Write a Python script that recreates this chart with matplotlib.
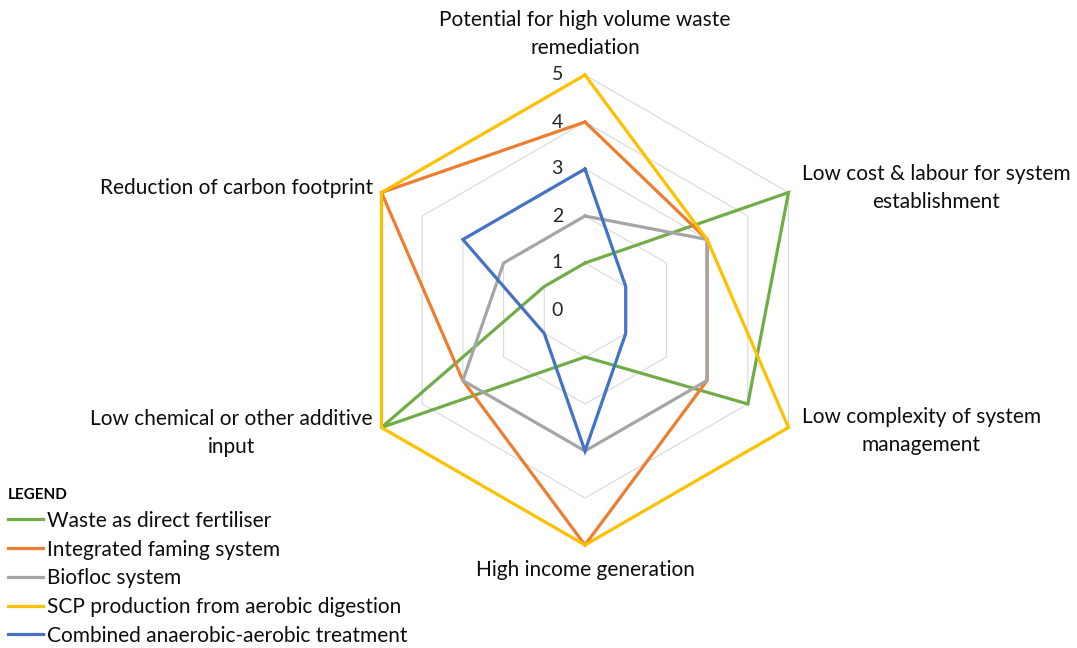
import numpy as np
import matplotlib.pyplot as plt
from matplotlib.lines import Line2D

plt.rcParams['font.family'] = ['Lato', 'DejaVu Sans']

criteria = [
    "Potential for high volume waste\nremediation",
    "Low cost & labour for system\nestablishment",
    "Low complexity of system\nmanagement",
    "High income generation",
    "Low chemical or other additive\ninput",
    "Reduction of carbon footprint",
]
series_names = [
    "Waste as direct fertiliser",
    "Integrated faming system",
    "Biofloc system",
    "SCP production from aerobic digestion",
    "Combined anaerobic-aerobic treatment",
]
waste_fertiliser = [1, 5, 4, 1, 5, 1]
integrated_farming = [4, 3, 3, 5, 3, 5]
biofloc = [2, 3, 3, 3, 3, 2]
scp_aerobic = [5, 3, 5, 5, 5, 5]
anaerobic_aerobic = [3, 1, 1, 3, 1, 3]
scale_ticks = [0, 1, 2, 3, 4, 5]

colors = ["#70AD47", "#ED7D31", "#A5A5A5", "#FFC000", "#4472C4"]
all_series = [waste_fertiliser, integrated_farming, biofloc, scp_aerobic, anaerobic_aerobic]

n = len(criteria)
angles = np.linspace(0, 2 * np.pi, n, endpoint=False)
closed = np.append(angles, angles[0])

fig = plt.figure(figsize=(10.77, 6.48), dpi=100)
ax = fig.add_axes([350 / 1077, 103 / 648, 470 / 1077, 470 / 648], projection='polar')
ax.set_theta_offset(np.pi / 2)
ax.set_theta_direction(-1)
ax.set_ylim(0, scale_ticks[-1])
ax.grid(False)
ax.spines['polar'].set_visible(False)
ax.set_xticks([])
ax.set_yticks([])
ax.patch.set_alpha(0)

# hexagonal gridlines
for k in scale_ticks[1:]:
    ax.plot(closed, [k] * (n + 1), color="#D9D9D9", lw=0.8, zorder=1, clip_on=False)

for vals, col, name in zip(all_series, colors, series_names):
    ax.plot(closed, vals + vals[:1], color=col, lw=2.3, zorder=3,
            clip_on=False, solid_joinstyle='miter', label=name)

for k in scale_ticks:
    ax.annotate(str(k), xy=(0, k), xytext=(-22, 0), textcoords='offset pixels',
                ha='right', va='center', fontsize=14, color="#262626")

# category labels around the outer ring
label_pos = [
    ((0, 41), 'center'),
    ((13, 5), 'left'),
    ((13, -4), 'left'),
    ((0, -25), 'center'),
    ((-9, -5), 'right'),
    ((-8, 5), 'right'),
]
rmax = scale_ticks[-1]
for ang, text, (off, ha) in zip(angles, criteria, label_pos):
    ax.annotate(text, xy=(ang, rmax), xytext=off, textcoords='offset pixels',
                ha=ha, va='center', multialignment='center', fontsize=15,
                color="#0D0D0D", linespacing=1.5)

handles = [Line2D([], [], color=c, lw=2.3) for c in colors]
leg = fig.legend(handles, series_names, loc='upper left',
                 bbox_to_anchor=(8 / 1077, 1 - 488 / 648), frameon=False,
                 fontsize=15, handlelength=1.7, handletextpad=0.15,
                 labelspacing=0.42, borderpad=0, borderaxespad=0,
                 title="LEGEND", title_fontproperties={'weight': 'bold', 'size': 11},
                 alignment='left')
for t in leg.get_texts():
    t.set_color("#0D0D0D")

fig.savefig("out.png", dpi=100)
